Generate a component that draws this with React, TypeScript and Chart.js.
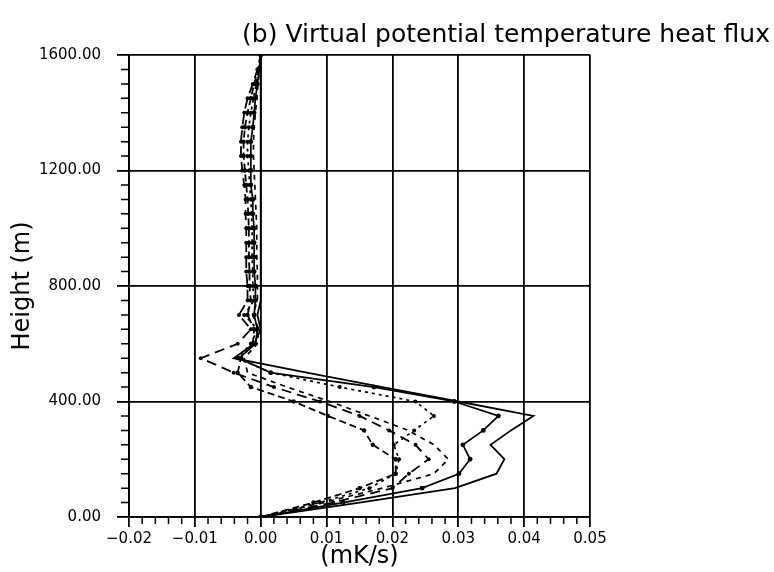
import React, { useEffect, useRef } from 'react';
import { Chart, registerables } from 'chart.js';

Chart.register(...registerables);

const TITLE = '(b) Virtual potential temperature heat flux';
const X_TITLE = '(mK/s)';
const Y_TITLE = 'Height (m)';

const HEIGHTS = [
  0, 50, 100, 150, 200, 250, 300, 350, 400, 450, 500, 550, 600, 650, 700, 750, 800,
  850, 900, 950, 1000, 1050, 1100, 1150, 1200, 1250, 1300, 1350, 1400, 1450, 1500, 1550, 1600,
];

const SERIES_A = [
  0, 0.015, 0.0295, 0.0358, 0.037, 0.0349, 0.038, 0.0414, 0.03, 0.0185, 0.007, -0.0041, -0.001,
  0, -0.0005, 0, 0, 0, 0, 0, 0, 0, 0, 0, 0, 0, 0, 0, 0, 0, 0, 0, 0,
];
const SERIES_B = [
  0, 0.0125, 0.0245, 0.0301, 0.0318, 0.0307, 0.0338, 0.0361, 0.0294, 0.0172, 0.0015, -0.0033, -0.0008,
  -0.0005, -0.001, -0.0008, -0.0008, -0.001, -0.001, -0.001, -0.001, -0.0012, -0.0012, -0.0015,
  -0.0015, -0.0015, -0.0015, -0.0012, -0.001, -0.0008, -0.0005, -0.0002, 0,
];
const SERIES_C = [
  0, 0.011, 0.02, 0.0225, 0.0255, 0.0235, 0.0195, 0.015, 0.009, 0.002, -0.0041, -0.0091, -0.0035,
  -0.0015, -0.0033, -0.002, -0.002, -0.0022, -0.0022, -0.0022, -0.0022, -0.0023, -0.0023, -0.0025,
  -0.0028, -0.003, -0.003, -0.0028, -0.0025, -0.002, -0.0012, -0.0005, 0,
];
const SERIES_D = [
  0, 0.008, 0.015, 0.0205, 0.0205, 0.017, 0.0157, 0.0102, 0.005, -0.0015, -0.0035, -0.003, -0.0012,
  -0.001, -0.002, -0.0015, -0.0017, -0.0017, -0.0018, -0.0018, -0.0018, -0.0019, -0.002, -0.0022,
  -0.0024, -0.0026, -0.0026, -0.0024, -0.002, -0.0015, -0.001, -0.0004, 0,
];
const SERIES_E = [
  0, 0.009, 0.0165, 0.0205, 0.021, 0.0202, 0.0233, 0.0263, 0.0235, 0.012, 0.0015, -0.0035, -0.0015,
  -0.0005, -0.0025, -0.001, -0.0012, -0.0012, -0.0013, -0.0013, -0.0013, -0.0014, -0.0015, -0.0017,
  -0.0018, -0.002, -0.002, -0.0018, -0.0015, -0.0011, -0.0007, -0.0003, 0,
];
const SERIES_F = [
  0, 0.0095, 0.0185, 0.0263, 0.0285, 0.0263, 0.0224, 0.0165, 0.0105, 0.004, -0.002, -0.0025, -0.0005,
  -0.0003, -0.0012, -0.0005, -0.0005, -0.0005, -0.0006, -0.0006, -0.0006, -0.0007, -0.0008, -0.0009,
  -0.001, -0.0011, -0.0011, -0.001, -0.0008, -0.0006, -0.0004, -0.0002, 0,
];

const X_MIN = -0.02;
const X_MAX = 0.05;
const X_STEP = 0.01;
const Y_MIN = 0;
const Y_MAX = 1600;
const Y_STEP = 400;

const FONT = '"DejaVu Sans", "Liberation Sans", sans-serif';

const toPoints = (vals: number[]) => vals.map((v, i) => ({ x: v, y: HEIGHTS[i] }));

const minorTicks = {
  id: 'minorTicks',
  afterDraw(chart: any) {
    const { ctx, scales } = chart;
    const x = scales.x;
    const y = scales.y;
    ctx.save();
    ctx.strokeStyle = '#000';
    ctx.lineWidth = 1.5;
    ctx.beginPath();
    for (let i = -10; i <= 25; i++) {
      if (i % 5 === 0) continue;
      const px = x.getPixelForValue(i * 0.002);
      ctx.moveTo(px, y.bottom);
      ctx.lineTo(px, y.bottom + 7);
    }
    for (let h = 50; h < 1600; h += 50) {
      if (h % 400 === 0) continue;
      const py = y.getPixelForValue(h);
      ctx.moveTo(x.left - 8, py);
      ctx.lineTo(x.left, py);
    }
    ctx.stroke();
    ctx.restore();
  },
};

export default function App() {
  const ref = useRef<HTMLCanvasElement | null>(null);

  useEffect(() => {
    document.body.style.margin = '0';
    if (!ref.current) return;
    const mk = (label: string, vals: number[], dash: number[], width: number, radius: number) => ({
      label,
      data: toPoints(vals),
      borderColor: '#000',
      backgroundColor: '#000',
      borderWidth: width,
      borderDash: dash,
      pointRadius: radius,
      pointBackgroundColor: '#000',
      pointBorderWidth: 0,
      showLine: true,
      fill: false,
      tension: 0,
    });
    const chart = new Chart(ref.current, {
      type: 'line',
      data: {
        datasets: [
          mk('A', SERIES_A, [], 1.8, 0),
          mk('B', SERIES_B, [], 1.7, 2.4),
          mk('C', SERIES_C, [10, 6], 1.8, 2),
          mk('D', SERIES_D, [7, 4], 1.8, 2.2),
          mk('E', SERIES_E, [3, 4], 1.7, 2),
          mk('F', SERIES_F, [5, 5], 1.7, 0),
        ],
      },
      options: {
        responsive: false,
        animation: false,
        layout: { padding: { right: 4, left: 0, top: 0, bottom: 0 } },
        plugins: {
          legend: { display: false },
          tooltip: { enabled: false },
          title: {
            display: true,
            text: TITLE,
            align: 'end',
            color: '#000',
            font: { family: FONT, size: 25, weight: 'normal', lineHeight: 1.2 },
            padding: { top: 20, bottom: 5 },
          },
        },
        scales: {
          x: {
            type: 'linear',
            min: X_MIN,
            max: X_MAX,
            ticks: {
              stepSize: X_STEP,
              autoSkip: false,
              maxRotation: 0,
              color: '#000',
              padding: 3,
              font: { family: FONT, size: 15 },
              callback: (value: any) => {
                const v = Number(value);
                const s = Math.abs(v).toFixed(2);
                return v < -1e-9 ? '\u2212' + s : s;
              },
            },
            grid: { color: '#000', lineWidth: 1.8, tickLength: 10, tickColor: '#000' },
            border: { color: '#000', width: 1.8 },
            title: {
              display: true,
              text: X_TITLE,
              color: '#000',
              font: { family: FONT, size: 24, lineHeight: 1.2 },
              padding: { top: 0, bottom: 1 },
            },
            afterFit: (s: any) => {
              s.height = 55;
            },
          },
          y: {
            type: 'linear',
            min: Y_MIN,
            max: Y_MAX,
            ticks: {
              stepSize: Y_STEP,
              color: '#000',
              padding: 16,
              font: { family: FONT, size: 15 },
              callback: (value: any) => Number(value).toFixed(2),
            },
            grid: { color: '#000', lineWidth: 1.8, tickLength: 12, tickColor: '#000' },
            border: { color: '#000', width: 1.8 },
            title: {
              display: true,
              text: Y_TITLE,
              color: '#000',
              font: { family: FONT, size: 24, lineHeight: 1.2 },
              padding: { top: 8, bottom: 0 },
            },
            afterFit: (s: any) => {
              s.width = 129;
            },
          },
          yRight: {
            type: 'linear',
            position: 'right',
            display: true,
            grid: { display: false, drawOnChartArea: false },
            ticks: { display: false },
            border: { display: false },
            afterFit: (s: any) => {
              s.width = 180;
            },
          },
        },
      },
      plugins: [minorTicks],
    } as any);
    return () => chart.destroy();
  }, []);

  return (
    <div style={{ width: 774, height: 572 }}>
      <canvas ref={ref} width={774} height={572} style={{ display: 'block' }} />
    </div>
  );
}
